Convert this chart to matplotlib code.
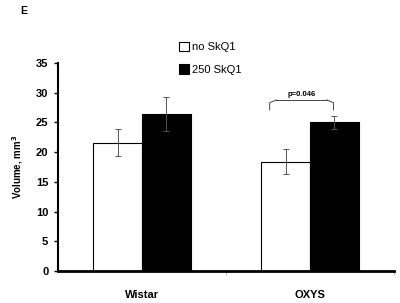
import numpy as np
import matplotlib.pyplot as plt

plt.rcParams['font.family'] = ['Liberation Sans', 'DejaVu Sans']

groups = ['Wistar', 'OXYS']
no_skq1 = [21.6, 18.4]
no_skq1_err = [2.3, 2.05]
skq1_250 = [26.4, 25.0]
skq1_250_err = [2.8, 1.1]
series_names = ['no SkQ1', '250 SkQ1']
yticks = [0, 5, 10, 15, 20, 25, 30, 35]

fig = plt.figure(figsize=(4.0, 3.03), dpi=100)
ax = fig.add_axes([0.145, 0.1056, 0.84, 0.6864])

x = np.arange(len(groups))
w = 0.29
ax.bar(x - w / 2, no_skq1, w, color='white', edgecolor='black', linewidth=0.8,
       yerr=no_skq1_err, error_kw=dict(ecolor='#555555', elinewidth=0.7, capsize=2, capthick=0.7),
       label=series_names[0])
ax.bar(x + w / 2, skq1_250, w, color='black', edgecolor='black', linewidth=0.8,
       yerr=skq1_250_err, error_kw=dict(ecolor='#555555', elinewidth=0.7, capsize=2, capthick=0.7),
       label=series_names[1])

ax.set_xlim(-0.5, 1.5)
ax.set_ylim(0, 35)
ax.set_yticks(yticks)
ax.set_yticklabels([str(t) for t in yticks], fontsize=8, fontweight='bold')
ax.set_xticks(x)
ax.set_xticklabels(groups, fontsize=8, fontweight='bold')
ax.tick_params(axis='x', length=0, pad=14)
ax.set_xticks([0.5, 1.5], minor=True)
ax.tick_params(axis='x', which='minor', length=3, width=0.5, color='#999999')
ax.tick_params(axis='y', length=3, width=1, pad=4)

for s in ['top', 'right']:
    ax.spines[s].set_visible(False)
ax.spines['left'].set_linewidth(1.5)
ax.spines['bottom'].set_linewidth(2)

ax.set_ylabel('Volume, mm$^\\mathbf{3}$', fontsize=7, fontweight='bold', labelpad=8)

# significance bracket
y0, y1 = 27.1, 28.8
xa, xb = 1 - 0.24, 1 + 0.14
r = 0.04
ax.plot([xa, xa, xa + r], [y0, y1 - 0.5, y1], color='#444444', lw=0.7)
ax.plot([xa + r, xb - r], [y1, y1], color='#444444', lw=0.7)
ax.plot([xb - r, xb, xb], [y1, y1 - 0.5, y0], color='#444444', lw=0.7)
ax.text((xa + xb) / 2, y1 + 0.3, 'p=0.046', ha='center', va='bottom', fontsize=5.5, fontweight='bold')

ax.legend(loc='upper left', bbox_to_anchor=(0.33, 1.15), frameon=False, fontsize=8,
          handlelength=0.9, handleheight=0.9, handletextpad=0.3, labelspacing=1.1)

fig.text(0.05, 0.965, 'E', fontsize=7.5, fontweight='bold', va='center')

fig.savefig('out.png', dpi=100)
